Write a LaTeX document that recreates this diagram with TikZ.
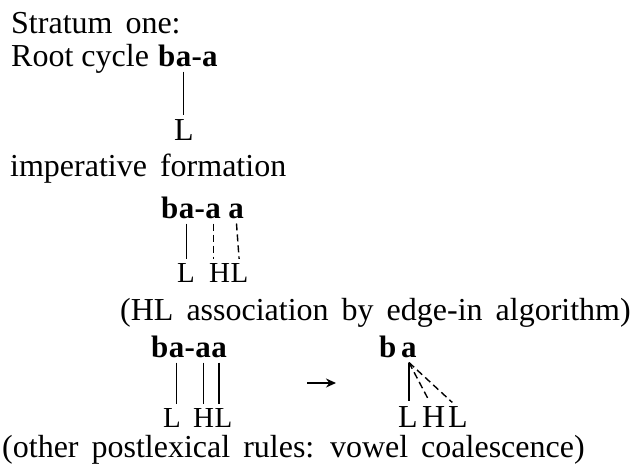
\documentclass[tikz,border=0pt]{standalone}
\usepackage{fontspec}
\setmainfont{Liberation Serif}
\usetikzlibrary{arrows.meta}
\begin{document}
\begin{tikzpicture}[x=1pt,y=-1pt,
  txt/.style={anchor=base west,inner sep=0pt,font=\fontsize{32}{38}\selectfont,
    execute at begin node={\spaceskip=13pt\relax}},
  tighttxt/.style={txt,execute at begin node={\spaceskip=8pt\relax}},
  bld/.style={anchor=base west,inner sep=0pt,font=\fontsize{31}{36}\selectfont\bfseries},
  tone/.style={anchor=base west,inner sep=0pt,font=\fontsize{29}{34}\selectfont},
  bigtone/.style={tone,font=\fontsize{32}{38}\selectfont},
  assoc/.style={line width=1.4pt,shorten <=5pt,shorten >=4pt},
  dashassoc/.style={assoc,dash pattern=on 7pt off 4pt},
  fan/.style={line width=1.4pt,shorten >=5pt},
  dashfan/.style={fan,dash pattern=on 7pt off 4pt}]
\useasboundingbox (0,0) rectangle (638,474);

% Stratum one
\node[txt] (s1) at (11,33) {Stratum one:};
\node[tighttxt] (rc) at (11,66) {Root cycle};
\node[bld] (rb) at (158,66) {b};
\node[bld] (ra) at (rb.base east) {a};
\node[bld] (rh) at (ra.base east) {-a};
\node[bigtone] (rL) at (174,140) {L};
\draw[assoc] (ra.south) -- (ra.south |- rL.north);

% imperative formation
\node[txt] (imp) at (10,176) {imperative formation};
\node[bld] (ib) at (161,218) {b};
\node[bld] (ia1) at (ib.base east) {a};
\node[bld] (ihy) at (ia1.base east) {-};
\node[bld] (ia2) at (ihy.base east) {a};
\node[bld] (ia3) at ([xshift=7pt]ia2.base east) {a};
\node[tone] (iL) at (177,282) {L};
\node[tone] (iH) at (209,282) {H};
\node[tone] (iL2) at (iH.base east) {L};
\draw[assoc] (ia1.south) -- (ia1.south |- iL.north);
\draw[dashassoc] (ia2.south) -- (ia2.south |- iH.north);
\draw[dashassoc] (ia3.south) -- (iL2.north);

\node[txt] (hl) at (120,320) {(HL association by edge-in algorithm)};

% postlexical, left
\node[bld] (pb) at (151,357) {b};
\node[bld] (pa1) at (pb.base east) {a};
\node[bld] (phy) at (pa1.base east) {-};
\node[bld] (pa2) at (phy.base east) {a};
\node[bld] (pa3) at (pa2.base east) {a};
\node[tone] (pL) at (163,427) {L};
\node[tone] (pH) at (193,427) {H};
\node[tone] (pL2) at (pH.base east) {L};
\draw[assoc] (pa1.south) -- (pa1.south |- pL.north);
\draw[assoc] (pa2.south) -- (pa2.south |- pH.north);
\draw[assoc] (pa3.south) -- (pa3.south |- pL2.north);

% arrow
\coordinate (arS) at (307,383);
\coordinate (arE) at (336,383);
\draw[line width=1.4pt,-{Stealth[length=10pt,width=9pt]}] (arS) -- (arE);

% postlexical, right
\node[bld] (qb) at (379,357) {b};
\node[bld] (qa) at (401,357) {a};
\coordinate (apex) at ([yshift=-5pt]qa.south);
\node[bigtone] (qL) at (398,427) {L};
\node[bigtone] (qH) at (422,427) {H};
\node[bigtone] (qL2) at (448,427) {L};
\draw[fan] (apex) -- (apex |- qL.north);
\draw[dashfan] (apex) -- ([xshift=-2pt]qH.north);
\draw[dashfan] (apex) -- ([xshift=-2pt]qL2.north);

\node[txt] (oth) at (2,457) {(other postlexical rules: vowel coalescence)};
\end{tikzpicture}
\end{document}
